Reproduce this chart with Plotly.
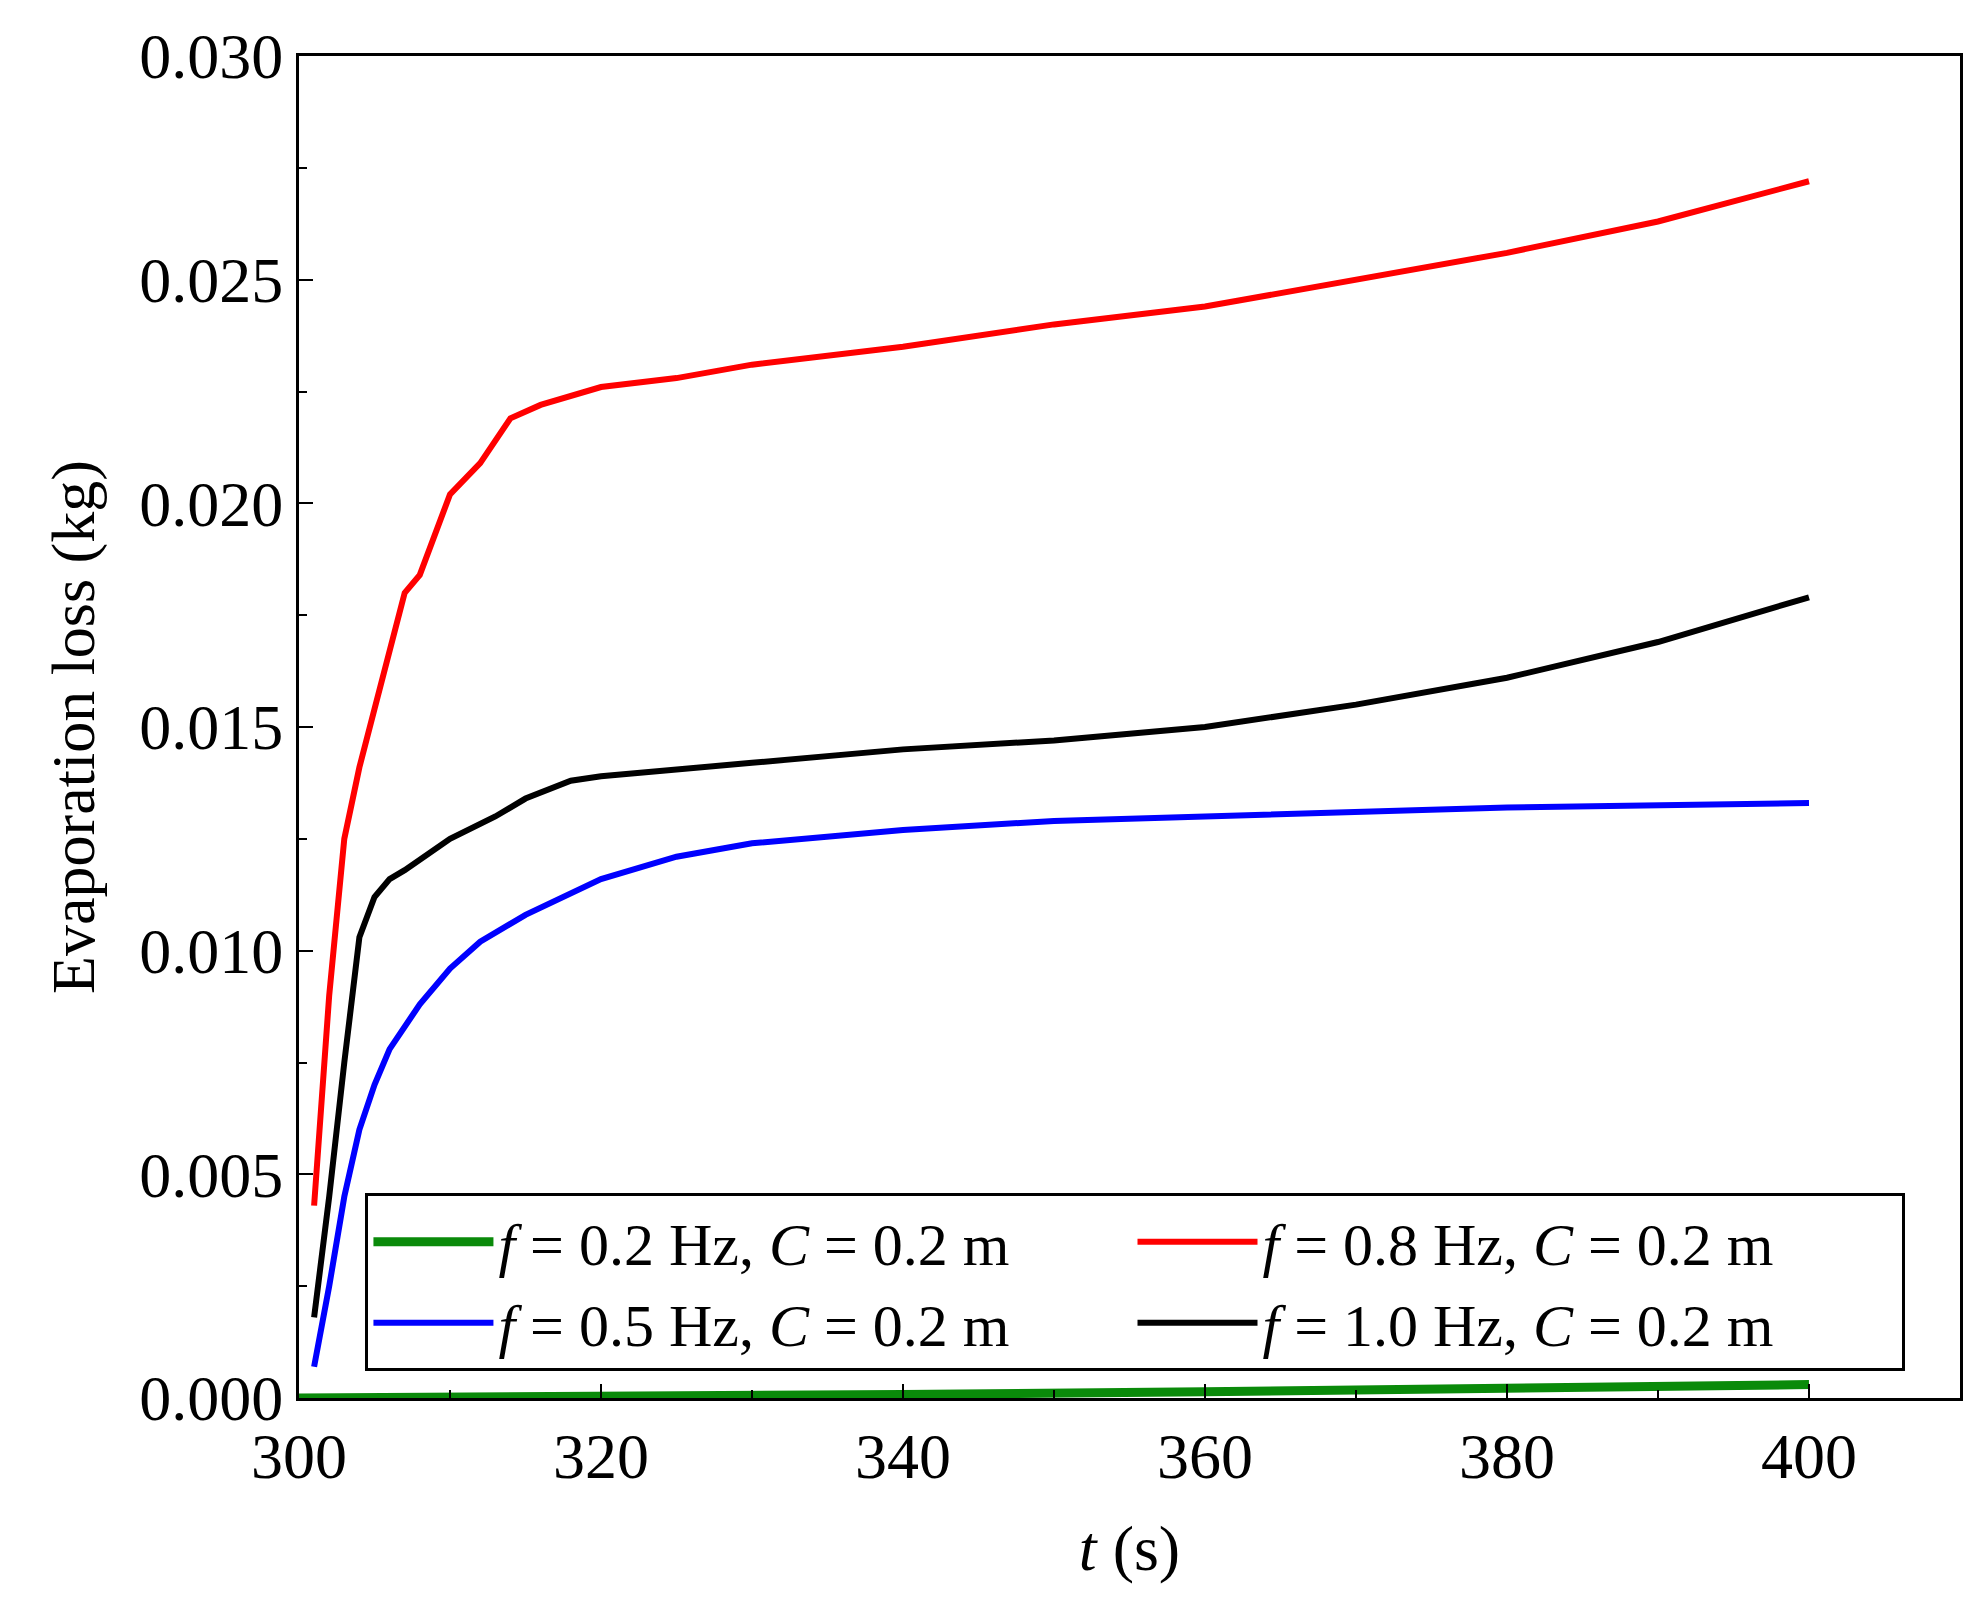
import plotly.graph_objects as go

t_red = [301, 302, 303, 304, 305, 306, 307, 308, 310, 312, 314, 316, 320, 325, 330, 340, 350, 360, 370, 380, 390, 400]
y_red = [0.0043, 0.0090, 0.0125, 0.0141, 0.0154, 0.0167, 0.0180, 0.0184, 0.0202, 0.0209, 0.0219, 0.0222, 0.0226,
         0.0228, 0.0231, 0.0235, 0.0240, 0.0244, 0.0250, 0.0256, 0.0263, 0.0272]

t_black = [301, 302, 303, 304, 305, 306, 307, 310, 313, 315, 318, 320, 330, 340, 350, 360, 370, 380, 390, 400]
y_black = [0.0018, 0.0045, 0.0075, 0.0103, 0.0112, 0.0116, 0.0118, 0.0125, 0.0130, 0.0134, 0.0138, 0.0139,
           0.0142, 0.0145, 0.0147, 0.0150, 0.0155, 0.0161, 0.0169, 0.0179]

t_blue = [301, 302, 303, 304, 305, 306, 308, 310, 312, 315, 320, 325, 330, 340, 350, 360, 380, 400]
y_blue = [0.0007, 0.0025, 0.0045, 0.0060, 0.0070, 0.0078, 0.0088, 0.0096, 0.0102, 0.0108, 0.0116, 0.0121,
          0.0124, 0.0127, 0.0129, 0.0130, 0.0132, 0.0133]

t_green = [300, 320, 340, 360, 380, 400]
y_green = [0.0, 0.00002, 0.00008, 0.00014, 0.00022, 0.0003]

font = "Liberation Serif, Times New Roman, serif"

fig = go.Figure()
fig.add_trace(go.Scatter(x=t_green, y=y_green, mode='lines', line=dict(color='#0a8a0a', width=9),
                         name='<i>f</i> = 0.2 Hz, <i>C</i> = 0.2 m'))
fig.add_trace(go.Scatter(x=t_red, y=y_red, mode='lines', line=dict(color='#ff0000', width=6),
                         name='<i>f</i> = 0.8 Hz, <i>C</i> = 0.2 m'))
fig.add_trace(go.Scatter(x=t_blue, y=y_blue, mode='lines', line=dict(color='#0000ff', width=6),
                         name='<i>f</i> = 0.5 Hz, <i>C</i> = 0.2 m'))
fig.add_trace(go.Scatter(x=t_black, y=y_black, mode='lines', line=dict(color='#000000', width=6),
                         name='<i>f</i> = 1.0 Hz, <i>C</i> = 0.2 m'))

axis_common = dict(showgrid=False, zeroline=False, showline=True, linecolor='black', linewidth=3,
                   mirror=True, ticks='inside', ticklen=14, tickwidth=2, tickcolor='black',
                   tickfont=dict(family=font, size=64, color='black'),
                   minor=dict(ticks='inside', ticklen=8, tickwidth=2, tickcolor='black'))

fig.update_xaxes(range=[300, 410], tickvals=[300, 320, 340, 360, 380, 400],
                 minor_dtick=10, minor_tick0=300,
                 title=dict(text='<i>t</i> (s)', font=dict(family=font, size=64, color='black'), standoff=35),
                 **axis_common)
fig.update_yaxes(range=[0, 0.030], dtick=0.005, tickformat='.3f', minor_dtick=0.0025,
                 title=dict(text='Evaporation loss (kg)', font=dict(family=font, size=62, color='black'), standoff=25),
                 **axis_common)

fig.update_layout(
    width=1972, height=1603,
    margin=dict(l=291, r=20, t=48, b=213),
    plot_bgcolor='white', paper_bgcolor='white',
    legend=dict(orientation='h', x=0.04, y=0.02, xanchor='left', yanchor='bottom',
                entrywidthmode='fraction', entrywidth=0.46,
                bordercolor='black', borderwidth=3, bgcolor='white',
                font=dict(family=font, size=60, color='black'), itemwidth=120,
                tracegroupgap=0),
)

fig.write_html("out.html")
